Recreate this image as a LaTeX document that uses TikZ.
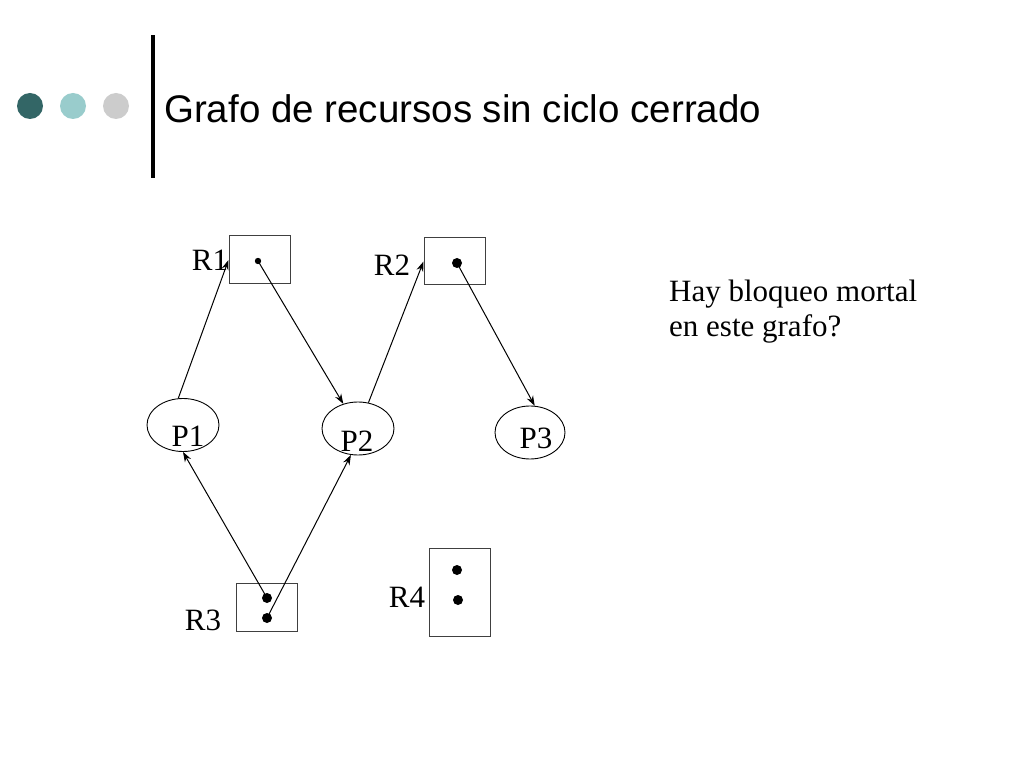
\documentclass[tikz,border=0pt]{standalone}
\usepackage{fontspec}
\setmainfont{Liberation Serif}
\newfontfamily\titlefont{Liberation Sans}
\usepackage{xcolor}
\usetikzlibrary{arrows.meta,shapes.geometric}
\definecolor{bulletdark}{HTML}{336666}
\definecolor{bulletlight}{HTML}{99CCCC}
\definecolor{bulletgrey}{HTML}{CCCCCC}

\begin{document}
\begin{tikzpicture}[x=1pt,y=-1pt,
    res/.style={draw=black!75,line width=1pt,minimum width=61pt,minimum height=48pt,inner sep=0pt},
    proc/.style={draw,ellipse,line width=0.9pt,minimum width=72pt,minimum height=53pt,inner sep=0pt},
    lab/.style={font=\fontsize{31}{35}\selectfont,inner sep=0pt}]
    \useasboundingbox (0,0) rectangle (1023,767);
    % cabecera
    \fill[bulletdark] (30,106) circle (13pt);
    \fill[bulletlight] (73,106) circle (13pt);
    \fill[bulletgrey] (116,106) circle (13pt);
    \fill (151,35) rectangle (155,178);
    \node[anchor=base west,inner sep=0pt,font=\titlefont\fontsize{38.5}{44}\selectfont] (title) at (164,123) {Grafo de recursos sin ciclo cerrado};
    % recursos
    \node[res] (R1) at (259.5,260) {};
    \node[res,minimum height=47pt] (R2) at (454.5,261.5) {};
    \node[res] (R3) at (266.5,607) {};
    \node[res,minimum height=88pt] (R4) at (459.5,592) {};
    \node[lab] (R1t) at (210,260) {R1};
    \node[lab] (R2t) at (392,265) {R2};
    \node[lab] (R3t) at (203,620) {R3};
    \node[lab] (R4t) at (407,597) {R4};
    \coordinate (a1) at (258,261);
    \coordinate (b1) at (457,263);
    \coordinate (c1) at (267,598);
    \coordinate (c2) at (267,618);
    \coordinate (e1) at (457,570);
    \coordinate (e2) at (458,600);
    \fill (a1) circle (3.2pt);
    \foreach \d in {b1,c1,c2,e1,e2} \fill (\d) circle (5pt);
    % procesos
    \node[proc] (P1) at (183,425) {};
    \node[proc] (P2) at (358,428.5) {};
    \node[proc,minimum width=70pt] (P3) at (530,432.5) {};
    \node[lab] (P1t) at (188,436) {P1};
    \node[lab] (P2t) at (357,441) {P2};
    \node[lab] (P3t) at (536,438) {P3};
    \begin{scope}[->,>={Stealth[length=10pt,width=7pt]},line width=1pt]
      \draw (P1.100) -- (R1.west);
      \draw (a1) -- (P2);
      \draw (P2.68) -- (R2.west);
      \draw (b1) -- (P3.80);
      \draw (c1) -- (P1.south);
      \draw (c2) -- (P2.255);
    \end{scope}
    \node[anchor=base west,lab] (q1) at (669,302) {Hay bloqueo mortal};
    \node[anchor=base west,lab] (q2) at (669,337) {en este grafo?};
  \end{tikzpicture}
\end{document}
